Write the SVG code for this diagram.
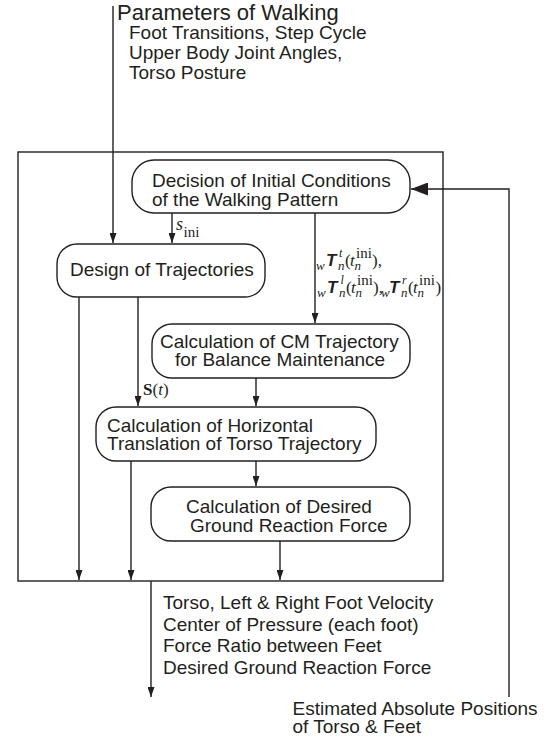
<svg xmlns="http://www.w3.org/2000/svg" width="551" height="738" viewBox="0 0 551 738">
<style>
.t{font-family:"Liberation Sans",Arial,sans-serif;font-size:19px;fill:#231f20}
.m{font-family:"Liberation Serif","Times New Roman",serif;font-size:17px;fill:#231f20}
.i{font-style:italic}
.sb{font-size:13px;font-style:italic}
.sp{font-size:12px;font-style:italic}
.ini{font-size:15px}
.T{font-family:"Liberation Sans",Arial,sans-serif;font-size:17px;font-style:italic;font-weight:bold}
.box{fill:#fff;stroke:#231f20;stroke-width:1.4}
.ln{fill:none;stroke:#231f20;stroke-width:1.4}
</style>
<defs>
<marker id="ahd" viewBox="0 0 10 7" refX="10" refY="3.5" markerWidth="10" markerHeight="7" orient="auto" markerUnits="userSpaceOnUse">
<path d="M0,0 L10,3.5 L0,7 z" fill="#231f20"/>
</marker>
<marker id="big" viewBox="0 0 17 13" refX="17" refY="6.5" markerWidth="17" markerHeight="13" orient="auto" markerUnits="userSpaceOnUse">
<path d="M0,0 L17,6.5 L0,13 z" fill="#231f20"/>
</marker>
</defs>

<rect id="frame" x="18" y="152" width="425" height="429" class="ln"/>

<g id="connectors">
<path class="ln" d="M113,6 V243" marker-end="url(#ahd)"/>
<path class="ln" d="M172,213 V243" marker-end="url(#ahd)"/>
<path class="ln" d="M315,213 V323" marker-end="url(#ahd)"/>
<path class="ln" d="M79,297 V580" marker-end="url(#ahd)"/>
<path class="ln" d="M138,297 V406" marker-end="url(#ahd)"/>
<path class="ln" d="M256,378 V406" marker-end="url(#ahd)"/>
<path class="ln" d="M256,461 V486" marker-end="url(#ahd)"/>
<path class="ln" d="M131,461 V580" marker-end="url(#ahd)"/>
<path class="ln" d="M280,541 V580" marker-end="url(#ahd)"/>
<path class="ln" d="M151,581 V697" marker-end="url(#ahd)"/>
<path class="ln" d="M509,697 V189 H411" marker-end="url(#big)"/>
</g>

<g id="params">
<text class="t" x="117" y="20" style="font-size:22px">Parameters of Walking</text>
<text class="t" x="129" y="38.5">Foot Transitions, Step Cycle</text>
<text class="t" x="129" y="58.5">Upper Body Joint Angles,</text>
<text class="t" x="129" y="79">Torso Posture</text>
</g>

<g id="decision">
<rect class="box" x="132" y="160" width="278" height="53" rx="22"/>
<text class="t" x="152" y="187">Decision of Initial Conditions</text>
<text class="t" x="152" y="205.5">of the Walking Pattern</text>
</g>

<g id="design">
<rect class="box" x="57" y="244" width="208" height="53" rx="20"/>
<text class="t" x="70" y="276">Design of Trajectories</text>
</g>

<g id="cm">
<rect class="box" x="152" y="324" width="258" height="54" rx="20"/>
<text class="t" x="160" y="348">Calculation of CM Trajectory</text>
<text class="t" x="175" y="366">for Balance Maintenance</text>
</g>

<g id="horizontal">
<rect class="box" x="96" y="407" width="280" height="54" rx="20"/>
<text class="t" x="107" y="431.5">Calculation of Horizontal</text>
<text class="t" x="107" y="450">Translation of Torso Trajectory</text>
</g>

<g id="grf">
<rect class="box" x="151" y="487" width="259" height="54" rx="20"/>
<text class="t" x="186" y="513">Calculation of Desired</text>
<text class="t" x="190" y="531.5">Ground Reaction Force</text>
</g>

<g id="labels">
<text class="m"><tspan class="i" x="176" y="230" style="font-size:18px">s</tspan><tspan class="ini" x="183.5" y="236.5">ini</tspan></text>

<text class="m"><tspan class="sb" x="316" y="270">w</tspan><tspan class="T" x="326" y="266">T</tspan><tspan class="sp" x="339" y="257">t</tspan><tspan class="sb" x="338" y="270">n</tspan><tspan x="345" y="266">(</tspan><tspan class="i" x="350" y="266">t</tspan><tspan class="ini" x="356" y="258">ini</tspan><tspan class="sb" x="354.5" y="270">n</tspan><tspan x="372" y="266">),</tspan></text>

<text class="m"><tspan class="sb" x="317" y="297">w</tspan><tspan class="T" x="327" y="293">T</tspan><tspan class="sp" x="340.5" y="284">l</tspan><tspan class="sb" x="339" y="297">n</tspan><tspan x="346" y="293">(</tspan><tspan class="i" x="351" y="293">t</tspan><tspan class="ini" x="357" y="285">ini</tspan><tspan class="sb" x="355.5" y="297">n</tspan><tspan x="373" y="293">),</tspan><tspan class="sb" x="381" y="297">w</tspan><tspan class="T" x="389" y="293">T</tspan><tspan class="sp" x="402" y="284">r</tspan><tspan class="sb" x="401" y="297">n</tspan><tspan x="408" y="293">(</tspan><tspan class="i" x="413" y="293">t</tspan><tspan class="ini" x="419" y="285">ini</tspan><tspan class="sb" x="417.5" y="297">n</tspan><tspan x="435.5" y="293">)</tspan></text>

<text class="m" x="143" y="395"><tspan font-weight="bold">S</tspan>(<tspan class="i">t</tspan>)</text>
</g>

<g id="outputs">
<text class="t" x="163" y="609">Torso, Left &amp; Right Foot Velocity</text>
<text class="t" x="163" y="630.7">Center of Pressure (each foot)</text>
<text class="t" x="163" y="652.3">Force Ratio between Feet</text>
<text class="t" x="163" y="674">Desired Ground Reaction Force</text>
</g>

<g id="estimated">
<text class="t" x="292.5" y="715">Estimated Absolute Positions</text>
<text class="t" x="292.5" y="733">of Torso &amp; Feet</text>
</g>
</svg>
